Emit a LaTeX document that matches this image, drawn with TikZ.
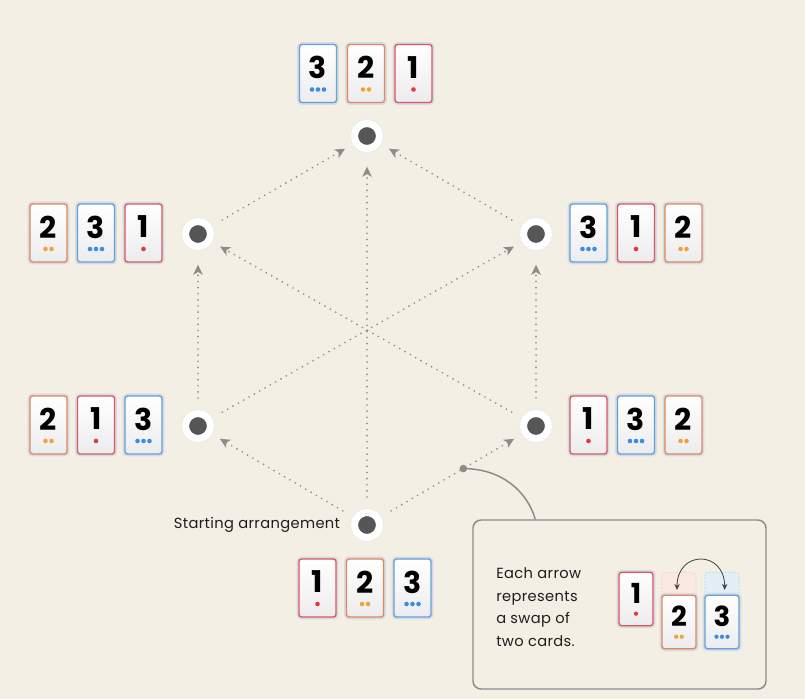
\documentclass[tikz,border=0pt]{standalone}
\usepackage{fontspec}
\setmainfont{Poppins}
\newfontfamily\labelfont{Poppins}[LetterSpace=2.5]
\usepackage{xcolor}
\definecolor{paper}{HTML}{F3EFE4}
\definecolor{inkdark}{HTML}{1E1E1E}
\definecolor{arrowgray}{HTML}{8C8C8C}
\definecolor{hubgray}{HTML}{565656}
\definecolor{boxgray}{HTML}{8A8A8A}
\definecolor{cardshade}{HTML}{ECECEE}
\definecolor{cardhalo}{HTML}{D6DAE2}
\definecolor{redline}{HTML}{DD5560}
\definecolor{redpip}{HTML}{E5383B}
\definecolor{orangeline}{HTML}{E2865C}
\definecolor{orangepip}{HTML}{F2A23A}
\definecolor{blueline}{HTML}{62A0DC}
\definecolor{bluepip}{HTML}{3A8DE0}
\usetikzlibrary{arrows.meta,positioning,calc}

\tikzset{
  cardbox/.style={rectangle,rounded corners=2pt,minimum width=27.75pt,
    minimum height=43.5pt,inner sep=0pt,line width=1pt,top color=white,
    bottom color=cardshade,preaction={draw=cardhalo,line width=3.6pt}},
  card1/.style={draw=redline},
  card2/.style={draw=orangeline},
  card3/.style={draw=blueline},
  pip1/.style={fill=redpip},
  pip2/.style={fill=orangepip},
  pip3/.style={fill=bluepip},
  digit/.style={inner sep=0pt,text=black,font=\fontsize{22.5}{22.5}\selectfont\bfseries}
}

\newcommand{\card}[4][1]{%
  \begin{scope}[shift={(#3)},scale=#1,transform shape]
    \node[cardbox,card#4] (#2) at (0,0) {};
    \node[digit] (#2n) at (0,-6) {#4};
    \foreach \k in {1,...,#4}
      \fill[pip#4] ({(\k-(#4+1)/2)*6},16) circle (2.3);
  \end{scope}}

\begin{document}
\begin{tikzpicture}[
  x=0.75pt,y=-0.75pt,
  labeltext/.style={text=inkdark,inner sep=0pt,font=\labelfont\fontsize{11}{16.9}\selectfont},
  state/.style={circle,fill=hubgray,draw=white,line width=5.25pt,
    minimum size=18.75pt,inner sep=0pt,preaction={draw=black!8,line width=6.6pt}},
  swapline/.style={draw=arrowgray,line width=1.4pt,line cap=round,
    dash pattern=on 0pt off 4.6pt,-{Stealth[length=7.5pt,width=7pt,inset=2pt]},
    shorten <=9pt,shorten >=7pt},
  longtip/.style={shorten >=11pt},
  legendbox/.style={draw=boxgray,fill=paper,line width=1.1pt,rounded corners=6pt,
    minimum width=219.75pt,minimum height=126.75pt,inner sep=0pt},
  leader/.style={draw=boxgray,line width=1.1pt},
  slotorange/.style={fill=orangeline!18,draw=orangeline!45},
  slotblue/.style={fill=blueline!18,draw=blueline!45},
  slot/.style={rectangle,rounded corners=2pt,minimum width=25.5pt,minimum height=40pt,
    inner sep=0pt,line width=0.6pt,dash pattern=on 1.2pt off 1.2pt},
  legendswap/.style={draw=black!75,line width=0.6pt,
    {Stealth[length=4.5pt,width=4pt]}-{Stealth[length=4.5pt,width=4pt]}}
]
\path[use as bounding box,fill=paper] (0,0) rectangle (805,699);

\node[state] (s123) at (367,525) {};
\node[state] (s213) at (198,426) {};
\node[state] (s132) at (536,426) {};
\node[state] (s231) at (198,234) {};
\node[state] (s312) at (536,234) {};
\node[state] (s321) at (367,136) {};

\draw[swapline] (s123) -- (s213);
\draw[swapline] (s123) -- (s132);
\draw[swapline,longtip] (s123) -- (s321);
\draw[swapline,longtip] (s213) -- (s231);
\draw[swapline,longtip] (s132) -- (s312);
\draw[swapline] (s213) -- (s312);
\draw[swapline] (s132) -- (s231);
\draw[swapline] (s231) -- (s321);
\draw[swapline] (s312) -- (s321);

\node[labeltext,left=8pt of s123] (start) {Starting arrangement};

\card{top3}{318,73.5}{3}
\card{top2}{366,73.5}{2}
\card{top1}{413.5,73.5}{1}
\card{ul2}{48.5,233}{2}
\card{ul3}{96,233}{3}
\card{ul1}{143.5,233}{1}
\card{ur3}{588.5,233}{3}
\card{ur1}{636,233}{1}
\card{ur2}{683.5,233}{2}
\card{ll2}{48.5,425}{2}
\card{ll1}{96,425}{1}
\card{ll3}{143.5,425}{3}
\card{lr1}{588.5,425}{1}
\card{lr3}{636,425}{3}
\card{lr2}{683.5,425}{2}
\card{bot1}{317.5,588}{1}
\card{bot2}{365,588}{2}
\card{bot3}{412.5,588}{3}

\node[legendbox] (legend) at (619.5,604.5) {};
\coordinate (tap) at ($(s123)!0.57!(s132)$);
\coordinate (boxtop) at ($(legend.north west)+(63,0)$);
\fill[arrowgray] (tap) circle (3.8);
\draw[leader] (tap) .. controls +(38,0) and +(-8,-28) .. (boxtop);

\node[labeltext,align=left,anchor=west] (legtext) at (496,607)
  {Each arrow\\represents\\a swap of\\two cards.};
\node[slot,slotorange] (slot2) at (679,599) {};
\node[slot,slotblue] (slot3) at (722,599) {};
\card[0.92]{key1}{636,599}{1}
\card[0.92]{key2}{679,622}{2}
\card[0.92]{key3}{722,622}{3}
\draw[legendswap] ([xshift=-1.5pt,yshift=-13.5pt]slot2.north)
  .. controls +(0,-40) and +(0,-40) .. ([xshift=2pt,yshift=-13.5pt]slot3.north);
\end{tikzpicture}
\end{document}
